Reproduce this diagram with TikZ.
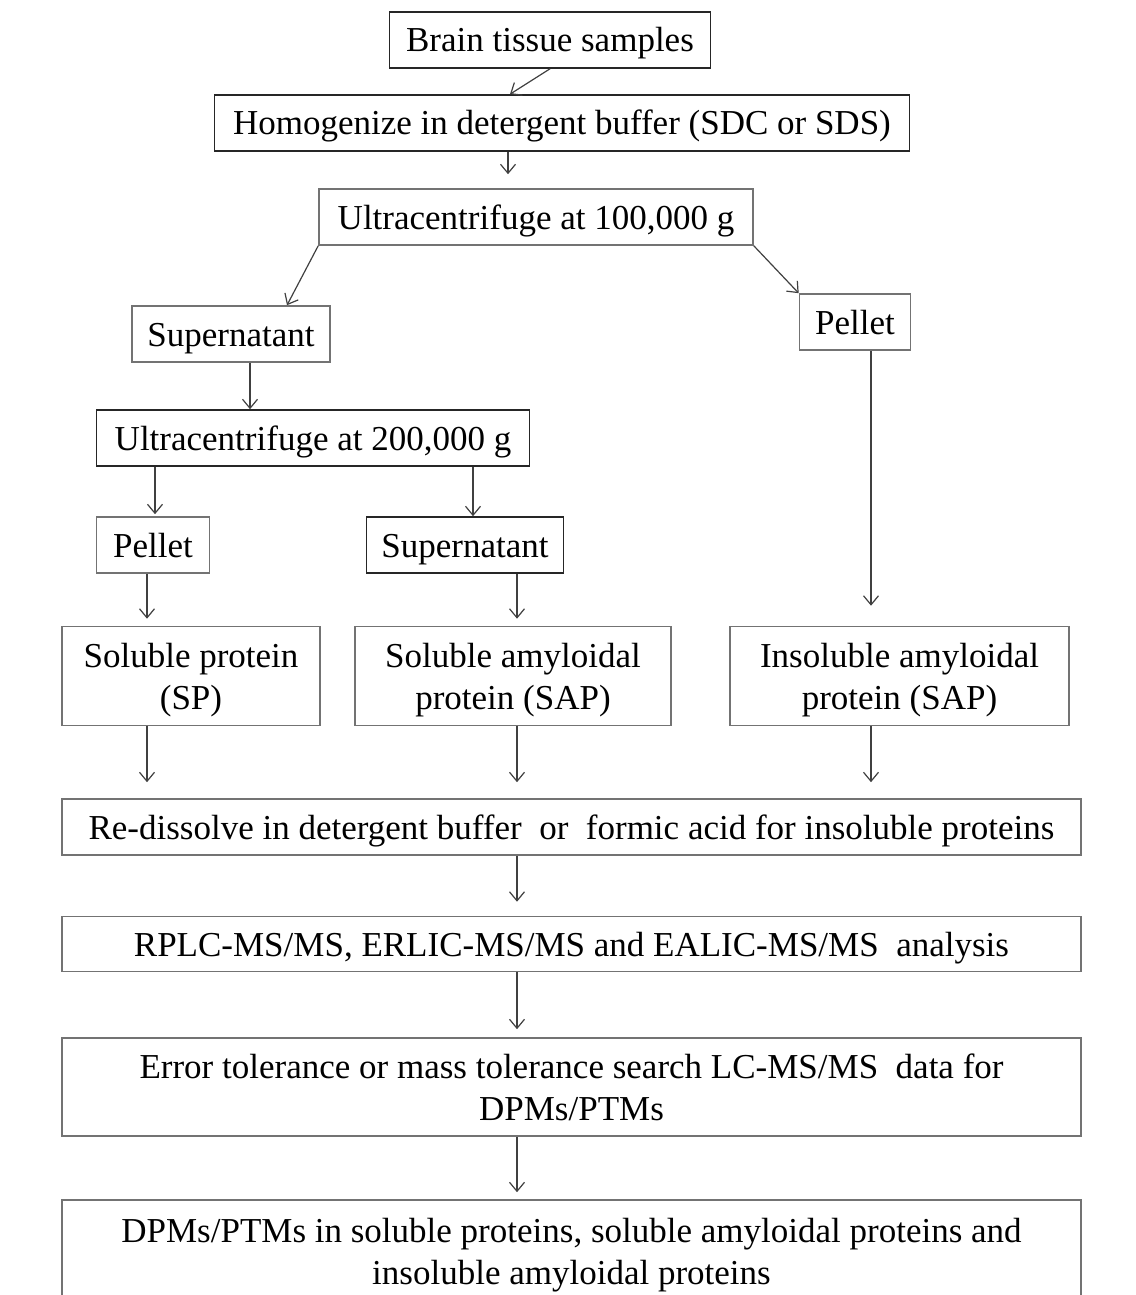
\documentclass[tikz,border=0pt]{standalone}
\usepackage{fontspec}
\setmainfont{Liberation Serif}
\usetikzlibrary{arrows.meta}

\begin{document}
\begin{tikzpicture}[x=1pt, y=-1pt,
  box/.style={draw=black!85, line width=1.6pt, inner sep=0pt, minimum height=56pt,
    text height=26pt, text depth=2pt,
    font=\fontsize{35}{42}\selectfont, align=center},
  greybox/.style={box, draw=black!55},
  twoline/.style={greybox, minimum height=99pt, text height=68pt},
  arr/.style={-{Straight Barb[length=9pt,width=15pt]}, line width=1.2pt, draw=black!75}]
\useasboundingbox (0,0) rectangle (1135,1295);
\clip (0,0) rectangle (1135,1295);
%\draw[step=50, black!20] (0,0) grid (1135,1295);

% top of the flow
\node[box, minimum width=321pt] (brain) at (550,40) {Brain tissue samples};
\node[box, minimum width=695pt] (hom) at (562,123) {Homogenize in detergent buffer (SDC or SDS)};
\node[greybox, minimum width=434pt] (uc1) at (536,217) {Ultracentrifuge at 100,000 g};
\node[greybox, minimum width=198pt] (supA) at (231,334) {Supernatant};
\node[greybox, minimum width=111pt] (pelA) at (855,322) {Pellet};
\node[box, minimum width=433pt] (uc2) at (313,438) {Ultracentrifuge at 200,000 g};
\node[greybox, minimum width=113pt] (pelB) at (153,545) {Pellet};
\node[box, minimum width=197pt] (supB) at (465,545) {Supernatant};

% fractions
\node[twoline, minimum width=258pt] (sp) at (191,676) {Soluble protein\\(SP)};
\node[twoline, minimum width=316pt] (sap) at (513,676) {Soluble amyloidal\\protein (SAP)};
\node[twoline, minimum width=339pt] (iap) at (899.5,676) {Insoluble amyloidal\\protein (SAP)};

% analysis
\node[greybox, minimum width=1019pt] (redis) at (571.5,827) {Re-dissolve in detergent buffer~ or~ formic acid for insoluble proteins};
\node[greybox, minimum width=1019pt, minimum height=55pt] (lcms) at (571.5,944) {RPLC-MS/MS, ERLIC-MS/MS and EALIC-MS/MS~ analysis};
\node[twoline, minimum width=1019pt, minimum height=98pt] (search) at (571.5,1087) {Error tolerance or mass tolerance search LC-MS/MS~ data for\\DPMs/PTMs};
\node[twoline, minimum width=1019pt, minimum height=134pt, text depth=34pt] (dpm) at (571.5,1267) {DPMs/PTMs in soluble proteins, soluble amyloidal proteins and\\insoluble amyloidal proteins};

% connectors
\draw[arr] (brain.south) -- (510,0 |- hom.north);
\draw[arr, shorten >=14pt] (508,0 |- hom.south) -- (508,0 |- uc1.north);
\draw[arr] (uc1.south west) -- (287,0 |- supA.north);
\draw[arr] (uc1.south east) -- (pelA.north west);
\draw[arr] (250,0 |- supA.south) -- (250,0 |- uc2.north);
\draw[arr, shorten >=2pt] (155,0 |- uc2.south) -- (155,0 |- pelB.north);
\draw[arr] (473,0 |- uc2.south) -- (473,0 |- supB.north);
\draw[arr, shorten >=7pt] (147,0 |- pelB.south) -- (147,0 |- sp.north);
\draw[arr, shorten >=7pt] (517,0 |- supB.south) -- (517,0 |- sap.north);
\draw[arr, shorten >=20pt] (871,0 |- pelA.south) -- (871,0 |- iap.north);
\foreach \n/\x in {sp/147, sap/517, iap/871}
  \draw[arr, shorten >=16pt] (\x,0 |- \n.south) -- (\x,0 |- redis.north);
\draw[arr, shorten >=14pt] (517,0 |- redis.south) -- (517,0 |- lcms.north);
\draw[arr, shorten >=8pt] (517,0 |- lcms.south) -- (517,0 |- search.north);
\draw[arr, shorten >=7pt] (517,0 |- search.south) -- (517,0 |- dpm.north);
\end{tikzpicture}
\end{document}
